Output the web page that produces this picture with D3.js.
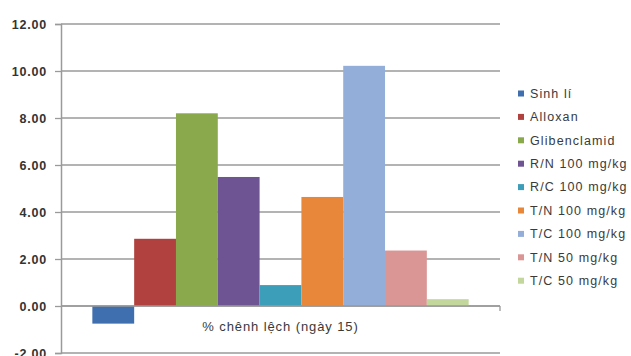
<!DOCTYPE html>
<html>
<head>
<meta charset="utf-8">
<script src="https://cdn.jsdelivr.net/npm/d3@7/dist/d3.min.js"></script>
<style>
  html, body { margin: 0; padding: 0; background: #fff; }
  svg { display: block; font-family: "Liberation Sans", Arial, sans-serif; }
</style>
</head>
<body>
<svg id="chart" width="631" height="356"></svg>
<script>
// Groups shown in the legend, in bar order
const groups = ["Sinh lí", "Alloxan", "Glibenclamid", "R/N 100 mg/kg", "R/C 100 mg/kg",
                "T/N 100 mg/kg", "T/C 100 mg/kg", "T/N 50 mg/kg", "T/C 50 mg/kg"];
// % difference on day 15 for each group
const values = [-0.75, 2.86, 8.20, 5.49, 0.89, 4.64, 10.22, 2.36, 0.29];
const colors = ["#3F6FAE", "#B0413E", "#8AA84C", "#6F5494", "#3C9EB8",
                "#E8863A", "#94AEDA", "#D99694", "#C3D69B"];
const category = "% chênh lệch (ngày 15)";
const yTicks = [-2, 0, 2, 4, 6, 8, 10, 12];

const svg = d3.select("#chart");
const plotLeft = 61, plotRight = 500, plotTop = 24, plotBottom = 353;

const y = d3.scaleLinear().domain([-2, 12]).range([plotBottom, plotTop]);
// One category; bars sit side by side with a 150% gap split on both sides
const gapFrac = 1.5 / (groups.length + 1.5);
const inset = (plotRight - plotLeft) * gapFrac / 2;
const x = d3.scaleBand().domain(groups)
  .range([plotLeft + inset, plotRight - inset])
  .padding(0);

// Gridlines
svg.append("g").selectAll("line").data(yTicks).join("line")
  .attr("x1", plotLeft).attr("x2", plotRight)
  .attr("y1", d => y(d)).attr("y2", d => y(d))
  .attr("stroke", "#9a9a9a").attr("stroke-width", 1.3);

// Value axis (hyphen-minus for negatives, two decimals)
const fmt = d => d.toFixed(2);
const yAxis = d3.axisLeft(y).tickValues(yTicks).tickSize(6).tickPadding(8)
  .tickFormat(fmt);
const ya = svg.append("g").attr("transform", `translate(${plotLeft},0)`).call(yAxis);
ya.select(".domain").attr("stroke", "#9a9a9a").attr("stroke-width", 1.5);
ya.selectAll(".tick line").attr("stroke", "#9a9a9a").attr("stroke-width", 1.3);
ya.selectAll(".tick text").attr("fill", "#333").attr("font-size", 12.5)
  .attr("font-weight", "bold").attr("letter-spacing", 0.8)
  .attr("font-family", "'Liberation Sans', Arial, sans-serif");

// Bars
svg.append("g").selectAll("rect").data(groups).join("rect")
  .attr("x", d => x(d))
  .attr("width", x.bandwidth())
  .attr("y", (d, i) => y(Math.max(0, values[i])))
  .attr("height", (d, i) => Math.abs(y(values[i]) - y(0)))
  .attr("fill", (d, i) => colors[i]);

// Category axis along zero with end tick
svg.append("line").attr("x1", plotLeft).attr("x2", plotRight)
  .attr("y1", y(0)).attr("y2", y(0))
  .attr("stroke", "#9a9a9a").attr("stroke-width", 1.3);
svg.append("line").attr("x1", plotRight).attr("x2", plotRight)
  .attr("y1", y(0)).attr("y2", y(0) + 5)
  .attr("stroke", "#9a9a9a").attr("stroke-width", 1.3);

svg.append("text").attr("x", (plotLeft + plotRight) / 2).attr("y", y(0) + 25)
  .attr("text-anchor", "middle").attr("font-size", 13).attr("letter-spacing", 0.9)
  .attr("fill", "#3a3a3a").text(category);

// Legend
const legend = svg.append("g").attr("transform", "translate(518,93.5)");
const item = legend.selectAll("g").data(groups).join("g")
  .attr("transform", (d, i) => `translate(0,${i * 23.4})`);
item.append("rect").attr("x", 0).attr("y", -3).attr("width", 6).attr("height", 6)
  .attr("fill", (d, i) => colors[i]);
item.append("text").attr("x", 12).attr("y", 0).attr("dy", "0.35em")
  .attr("font-size", 12.5).attr("letter-spacing", 1.1)
  .attr("fill", "#3a3a3a").text(d => d);
</script>
</body>
</html>
